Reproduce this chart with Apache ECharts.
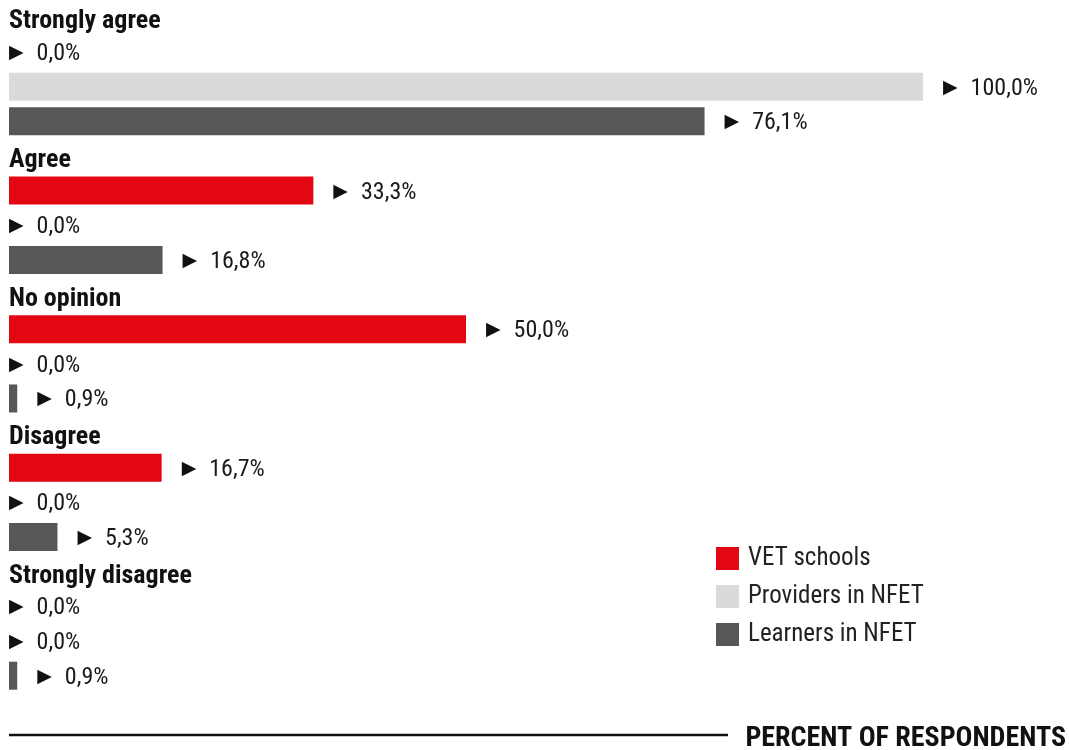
<!DOCTYPE html>
<html>
<head>
<meta charset="utf-8">
<script src="https://cdn.jsdelivr.net/npm/echarts@6/dist/echarts.min.js"></script>
<style>
  html, body { margin: 0; padding: 0; background: #ffffff; }
  #chart { width: 1069px; height: 750px; }
</style>
</head>
<body>
<div id="chart"></div>
<script>
// Answer groups, top to bottom
const groups = ['Strongly agree', 'Agree', 'No opinion', 'Disagree', 'Strongly disagree'];
// Share of respondents (%) per group
const vetSchools = [0, 33.3, 50.0, 16.7, 0];
const providersNFET = [100.0, 0, 0, 0, 0];
const learnersNFET = [76.1, 16.8, 0.9, 5.3, 0.9];
const seriesNames = ['VET schools', 'Providers in NFET', 'Learners in NFET'];
const axisTitle = 'PERCENT OF RESPONDENTS';

const FONT = "'Liberation Sans Narrow', 'Roboto Condensed', 'DejaVu Sans Condensed', Roboto, sans-serif";
const colors = ['#e30613', '#dadada', '#575756'];
const valuesBySeries = [vetSchools, providersNFET, learnersNFET];

// Each group takes one heading row plus one row per series
const rowLabels = [];
groups.forEach(g => { rowLabels.push(g); seriesNames.forEach(() => rowLabels.push('')); });

function seriesData(si) {
  const out = [];
  groups.forEach((g, gi) => {
    out.push('-');
    seriesNames.forEach((n, sj) => {
      if (sj === si) {
        const v = valuesBySeries[si][gi];
        out.push({ value: v, label: { distance: v === 0 ? 0 : 20 } });
      } else {
        out.push('-');
      }
    });
  });
  return out;
}

const fmt = p => '{tri|\u25B6}' + p.value.toFixed(1).replace('.', ',') + '%';

const chart = echarts.init(document.getElementById('chart'), null, { renderer: 'canvas' });
chart.setOption({
  animation: false,
  backgroundColor: '#ffffff',
  textStyle: { fontFamily: FONT },
  grid: { left: 9, right: 146, top: -2, bottom: 57, containLabel: false },
  xAxis: {
    type: 'value', min: 0, max: 100,
    show: false
  },
  yAxis: {
    type: 'category', inverse: true, data: rowLabels,
    axisLine: { show: false }, axisTick: { show: false }, splitLine: { show: false },
    axisLabel: {
      inside: true, interval: 0, margin: 0, align: 'left',
      formatter: v => v ? '{h|' + v + '}' : '',
      rich: {
        h: { fontFamily: FONT, fontWeight: 'bold', fontSize: 26, color: '#111111', padding: [9, 0, 0, 0] }
      }
    }
  },
  legend: {
    orient: 'vertical', left: 716, top: 546, padding: 0,
    itemWidth: 23, itemHeight: 23, itemGap: 13, icon: 'rect',
    textStyle: { fontFamily: FONT, fontSize: 25, color: '#222222', padding: [0, 0, 0, 4] },
    data: seriesNames
  },
  series: seriesNames.map((name, si) => ({
    name, type: 'bar', data: seriesData(si),
    barWidth: 28, barGap: '-100%',
    itemStyle: { color: colors[si] },
    label: {
      show: true, position: 'right', formatter: fmt,
      fontFamily: FONT, fontSize: 24, color: '#1a1a1a', padding: [4, 0, 0, 0],
      rich: { tri: { fontFamily: 'DejaVu Sans', fontSize: 19, color: '#111111', padding: [0, 13, 2, 0] } }
    }
  })),
  graphic: [
    { type: 'line', shape: { x1: 9, y1: 735, x2: 728, y2: 735 }, style: { stroke: '#111111', lineWidth: 2.5 } },
    { type: 'text', right: 3, top: 725, style: { text: axisTitle, fontFamily: FONT, fontWeight: 'bold', fontSize: 28, fill: '#111111' } }
  ]
});
</script>
</body>
</html>
